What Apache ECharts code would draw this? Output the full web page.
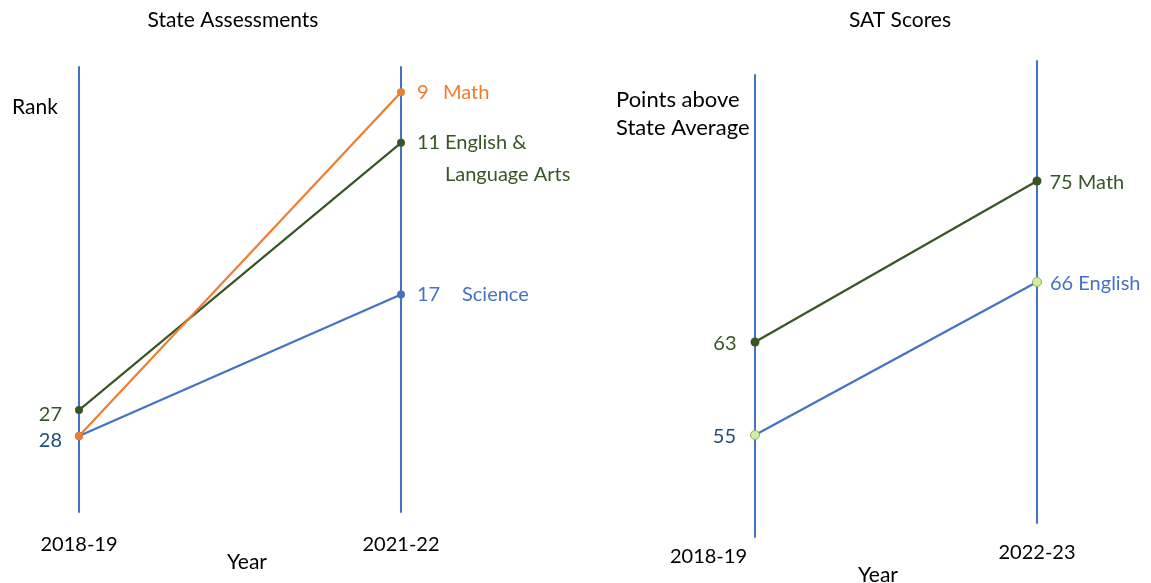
<!DOCTYPE html>
<html>
<head>
<meta charset="utf-8">
<script src="https://cdn.jsdelivr.net/npm/echarts@6/dist/echarts.min.js"></script>
<style>html,body{margin:0;padding:0;background:#fff}#c{width:1151px;height:583px}</style>
</head>
<body>
<div id="c"></div>
<script>
// ---- data ----
const stateYears = ['2018-19', '2021-22'];
const stateSubjects = ['Math', 'English &\nLanguage Arts', 'Science'];
const stateRank2018 = [28, 27, 28];
const stateRank2021 = [9, 11, 17];

const satYears = ['2018-19', '2022-23'];
const satSubjects = ['Math', 'English'];
const satPoints2018 = [63, 55];
const satPoints2023 = [75, 66];

// ---- styles ----
const FONT = 'Lato';
const FS = 20;
const BLUE = '#4472C4', ORANGE = '#ED7D31', GREEN = '#375623', NAVY = '#1F4E79', LIGHT = '#D3EDA5';
const stateColors = [ORANGE, GREEN, BLUE];
const stateLeftLabelColors = [null, GREEN, NAVY];
const stateNumWidth = [26, 28, 45];
const stateZ = [6, 5, 4];
const satColors = [GREEN, BLUE];
const satLeftLabelColors = [GREEN, NAVY];
const satDot = [{color: GREEN}, {color: LIGHT, borderColor: '#8DB35E', borderWidth: 1}];

// axis ranges (layout)
const stateLeftRange = [13.81, 30.92];
const stateRightRange = [8.0, 25.6];
const satLeftGridRange = [46.226, 85.968];
const satLeftParRange = [46.226, 87.172];
const satRightGridRange = [44.525, 85.693];
const satRightParRange = [43.277, 85.693];

const hiddenAxis = () => ({
  axisLine: {show: false, lineStyle: {color: 'rgba(0,0,0,0)', width: 0}},
  axisTick: {show: false, lineStyle: {color: 'rgba(0,0,0,0)'}},
  axisLabel: {show: false, color: 'rgba(0,0,0,0)', fontSize: 1, formatter: () => ''},
  splitLine: {show: false},
  nameTextStyle: {color: 'rgba(0,0,0,0)', fontSize: 1}
});
const blueAxis = () => ({axisLine: {show: true, onZero: false, lineStyle: {color: BLUE, width: 2}}, axisTick: {show: false}, axisLabel: {show: false}, splitLine: {show: false}});

const series = [];
stateSubjects.forEach((s, i) => {
  series.push({
    type: 'parallel', parallelIndex: 0, silent: true, z: stateZ[i],
    lineStyle: {color: stateColors[i], width: 2.2, opacity: 1},
    data: [[stateRank2018[i], stateRank2021[i]]]
  });
});
stateSubjects.forEach((s, i) => {
  const lc = stateLeftLabelColors[i];
  series.push({
    type: 'scatter', xAxisIndex: 0, yAxisIndex: 0, symbolSize: 8, z: 10 + stateZ[i], silent: true,
    itemStyle: {color: stateColors[i], opacity: 1},
    label: {show: !!lc, position: 'left', distance: 13, offset: [0, 4], formatter: '{@[1]}', fontFamily: FONT, fontSize: FS, color: lc || '#000'},
    data: [[stateYears[0], stateRank2018[i]]]
  });
  const lines = s.split('\n');
  const fmt = lines.map((l, k) => '{n|' + (k === 0 ? '{@[1]}' : '') + '}{s|' + l + '}').join('\n');
  series.push({
    type: 'scatter', xAxisIndex: 0, yAxisIndex: 1, symbolSize: 8, z: 10 + stateZ[i], silent: true,
    itemStyle: {color: stateColors[i], opacity: 1},
    label: {show: true, position: 'right', distance: 12, offset: [0, (lines.length - 1) * 16],
      formatter: fmt,
      rich: {
        n: {width: stateNumWidth[i], fontFamily: FONT, fontSize: FS, color: stateColors[i], lineHeight: 32},
        s: {fontFamily: FONT, fontSize: FS, color: stateColors[i], lineHeight: 32}
      }},
    data: [[stateYears[1], stateRank2021[i]]]
  });
});
satSubjects.forEach((s, i) => {
  series.push({
    type: 'parallel', parallelIndex: 1, silent: true, z: 3,
    lineStyle: {color: satColors[i], width: 2.2, opacity: 1},
    data: [[satPoints2018[i], satPoints2023[i]]]
  });
  series.push({
    type: 'scatter', xAxisIndex: 1, yAxisIndex: 2, symbolSize: 9, z: 10, silent: true,
    itemStyle: Object.assign({opacity: 1}, satDot[i]),
    label: {show: true, position: 'left', distance: 14, offset: [0, 2], formatter: '{@[1]}', fontFamily: FONT, fontSize: FS, color: satLeftLabelColors[i]},
    data: [[satYears[0], satPoints2018[i]]]
  });
  series.push({
    type: 'scatter', xAxisIndex: 2, yAxisIndex: 3, symbolSize: 9, z: 10, silent: true,
    itemStyle: Object.assign({opacity: 1}, satDot[i]),
    label: {show: true, position: 'right', distance: 8, offset: [0, 2], formatter: '{@[1]} ' + s, fontFamily: FONT, fontSize: FS, color: satColors[i]},
    data: [[satYears[1], satPoints2023[i]]]
  });
});

const TF = 21;
const option = {
  animation: false,
  backgroundColor: '#fff',
  grid: [
    {left: 79, top: 67, width: 322, height: 445},
    {left: 755, top: 75, width: 282, height: 462},
    {left: 755, top: 61, width: 282, height: 462}
  ],
  parallel: [
    {left: 79, top: 67, width: 322, height: 445, layout: 'horizontal', parallelAxisDefault: hiddenAxis()},
    {left: 755, top: 61, width: 282, height: 476, layout: 'horizontal', parallelAxisDefault: hiddenAxis()}
  ],
  parallelAxis: [
    Object.assign({dim: 0, parallelIndex: 0, name: '', inverse: true, min: stateLeftRange[0], max: stateLeftRange[1]}, hiddenAxis()),
    Object.assign({dim: 1, parallelIndex: 0, name: '', inverse: true, min: stateRightRange[0], max: stateRightRange[1]}, hiddenAxis()),
    Object.assign({dim: 0, parallelIndex: 1, name: '', min: satLeftParRange[0], max: satLeftParRange[1]}, hiddenAxis()),
    Object.assign({dim: 1, parallelIndex: 1, name: '', min: satRightParRange[0], max: satRightParRange[1]}, hiddenAxis())
  ],
  xAxis: [
    {type: 'category', gridIndex: 0, data: stateYears, boundaryGap: false,
      axisLine: {show: false}, axisTick: {show: false}, splitLine: {show: false},
      axisLabel: {margin: 23, fontFamily: FONT, fontSize: FS, color: '#000'}},
    {type: 'category', gridIndex: 1, data: satYears, boundaryGap: false,
      axisLine: {show: false}, axisTick: {show: false}, splitLine: {show: false},
      axisLabel: {interval: (i) => i === 0, margin: 10, align: 'right', padding: [0, 8, 0, 0], fontFamily: FONT, fontSize: FS, color: '#000'}},
    {type: 'category', gridIndex: 2, data: satYears, boundaryGap: false,
      axisLine: {show: false}, axisTick: {show: false}, splitLine: {show: false},
      axisLabel: {interval: (i) => i === 1, margin: 20, fontFamily: FONT, fontSize: FS, color: '#000'}}
  ],
  yAxis: [
    Object.assign({type: 'value', gridIndex: 0, position: 'left', inverse: true, min: stateLeftRange[0], max: stateLeftRange[1]}, blueAxis()),
    Object.assign({type: 'value', gridIndex: 0, position: 'right', inverse: true, min: stateRightRange[0], max: stateRightRange[1]}, blueAxis()),
    Object.assign({type: 'value', gridIndex: 1, position: 'left', min: satLeftGridRange[0], max: satLeftGridRange[1]}, blueAxis()),
    Object.assign({type: 'value', gridIndex: 2, position: 'right', min: satRightGridRange[0], max: satRightGridRange[1]}, blueAxis())
  ],
  graphic: [
    {type: 'text', x: 233, y: 20, style: {text: 'State Assessments', font: TF + 'px ' + FONT, fill: '#000', align: 'center', verticalAlign: 'middle'}},
    {type: 'text', x: 900, y: 20, style: {text: 'SAT Scores', font: TF + 'px ' + FONT, fill: '#000', align: 'center', verticalAlign: 'middle'}},
    {type: 'text', x: 12, y: 107, style: {text: 'Rank', font: TF + 'px ' + FONT, fill: '#000', align: 'left', verticalAlign: 'middle'}},
    {type: 'text', x: 616, y: 114, style: {text: 'Points above\nState Average', font: '22px ' + FONT, lineHeight: 28, fill: '#000', align: 'left', verticalAlign: 'middle'}},
    {type: 'text', x: 247, y: 562, style: {text: 'Year', font: TF + 'px ' + FONT, fill: '#000', align: 'center', verticalAlign: 'middle'}},
    {type: 'text', x: 878, y: 575, style: {text: 'Year', font: TF + 'px ' + FONT, fill: '#000', align: 'center', verticalAlign: 'middle'}}
  ],
  series: series
};
const chart = echarts.init(document.getElementById('c'), null, {renderer: 'canvas'});
chart.setOption(option);
</script>
</body>
</html>
